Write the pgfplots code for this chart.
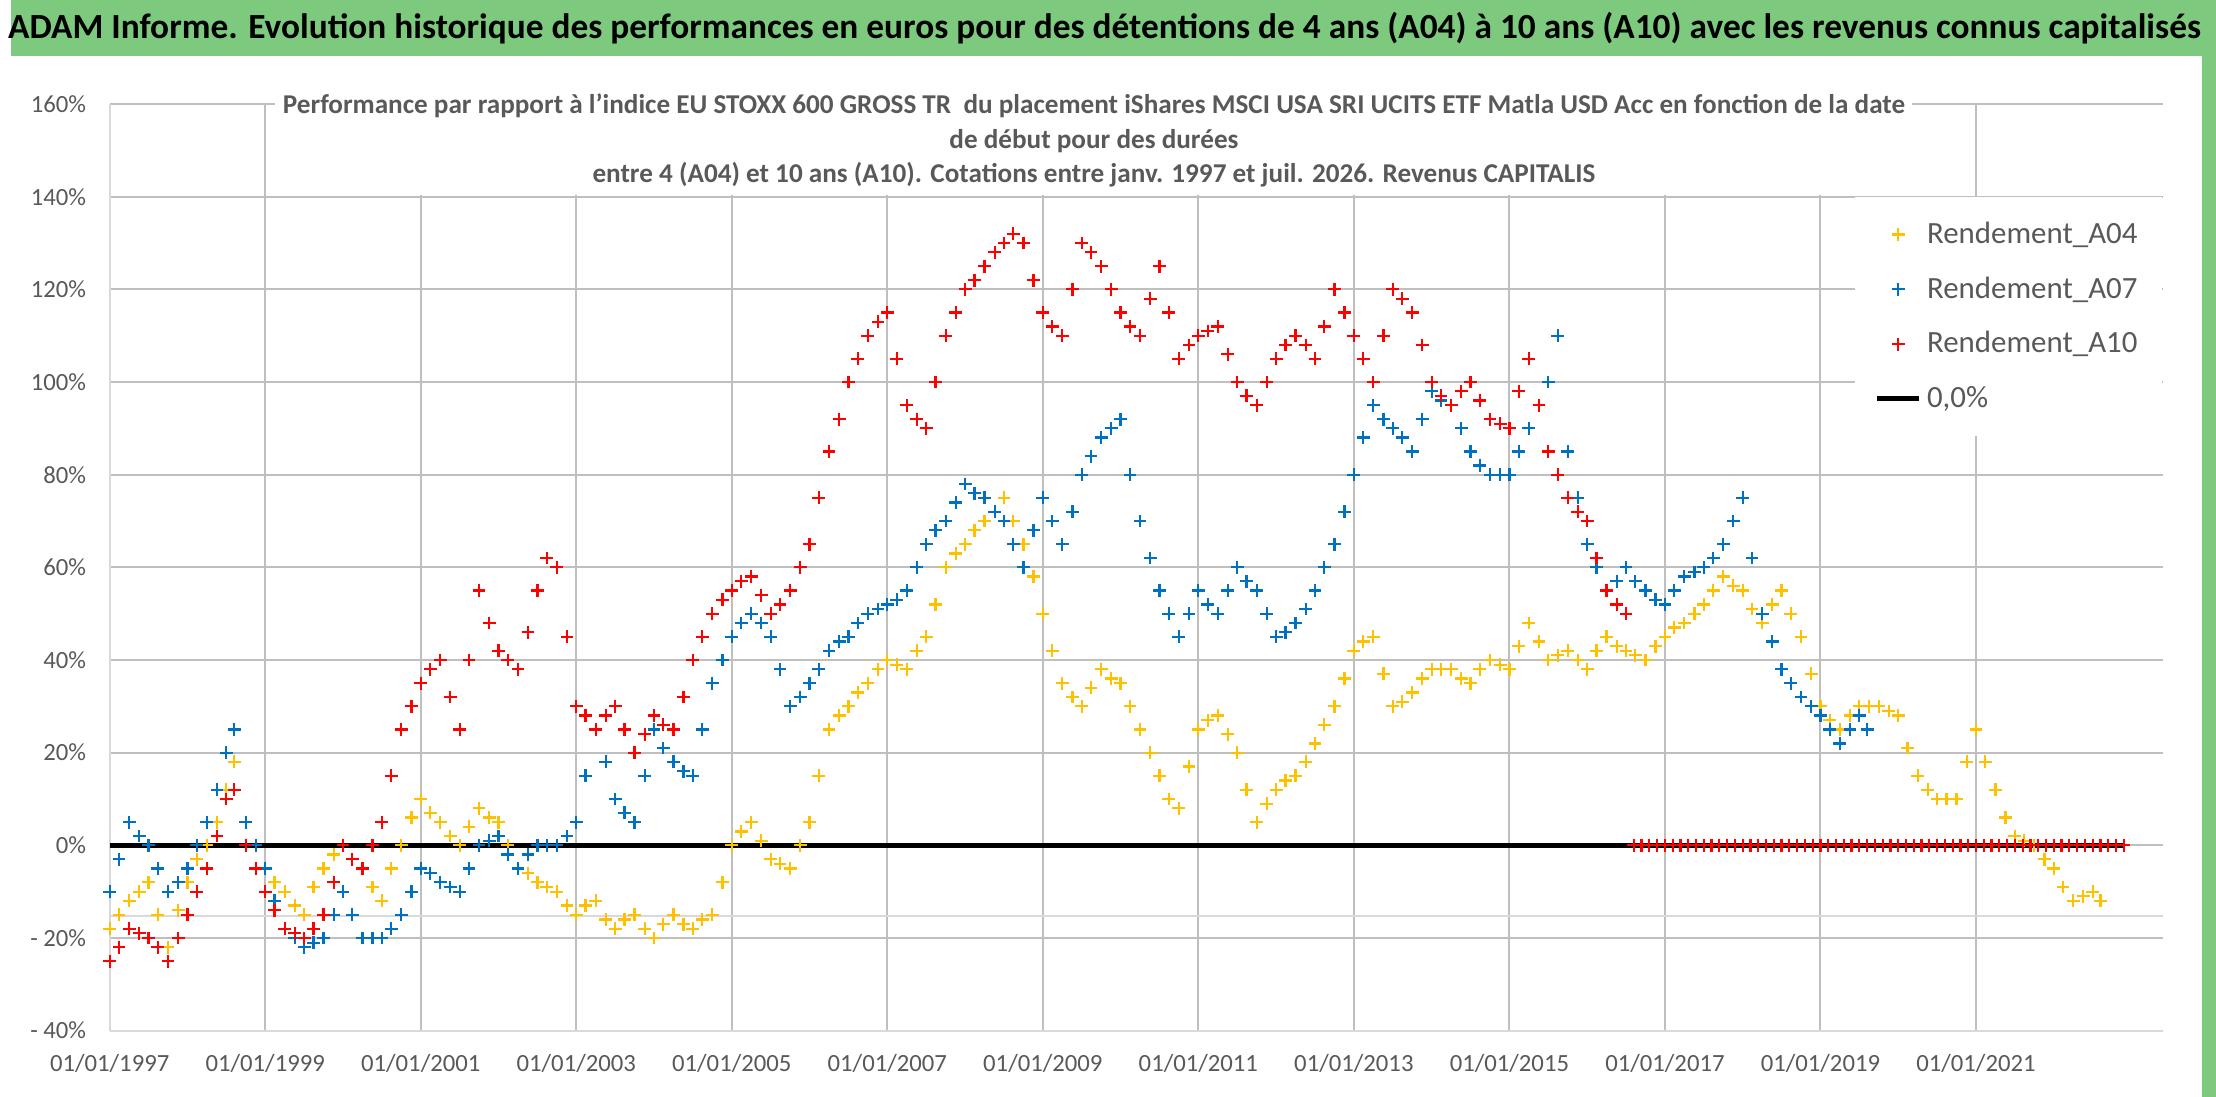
\documentclass[border=0pt]{standalone}
\usepackage{pgfplots}
\pgfplotsset{compat=1.18}
\usepackage{fontspec}
\setmainfont{Carlito}
\definecolor{cy}{HTML}{FFC000}
\definecolor{cb}{HTML}{0070C0}
\definecolor{cr}{HTML}{FF0000}
\definecolor{gbar}{HTML}{7DC97D}
\definecolor{tgray}{HTML}{595959}
\definecolor{grid}{HTML}{D9D9D9}
\begin{document}
\begin{tikzpicture}
\path[fill=white] (0,0) rectangle (31.36,15.6);
\fill[gbar] (0,14.8) rectangle (31.36,15.6);
\fill[gbar] (31.16,0) rectangle (31.36,15.6);
\node[anchor=center,font=\bfseries\fontsize{14.3}{17}\selectfont] at (15.55,15.2) {ADAM Informe. Evolution historique des performances en euros pour des détentions de 4 ans (A04) à 10 ans (A10) avec les revenus connus capitalisés};
\begin{axis}[at={(1.40cm,0.94cm)},anchor=south west,scale only axis,
 width=29.2cm,height=13.18cm,
 xmin=1997,xmax=2023.4,ymin=-40,ymax=160,
 xtick={1997,1999,2001,2003,2005,2007,2009,2011,2013,2015,2017,2019,2021},
 xticklabels={01/01/1997,01/01/1999,01/01/2001,01/01/2003,01/01/2005,01/01/2007,01/01/2009,01/01/2011,01/01/2013,01/01/2015,01/01/2017,01/01/2019,01/01/2021},
 ytick={-40,-20,0,20,40,60,80,100,120,140,160},
 yticklabels={- 40\%,- 20\%,0\%,20\%,40\%,60\%,80\%,100\%,120\%,140\%,160\%},
 xmajorgrids,ymajorgrids,grid style={grid,line width=0.8pt},
 major tick length=0pt,
 xticklabel style={yshift=-6pt},yticklabel style={xshift=-6pt},
 axis x line*=bottom,axis y line*=left,
 axis line style={grid,line width=0.8pt},
 tick label style={font=\fontsize{10}{12}\selectfont,text=tgray},
 legend style={at={(1,0.9)},anchor=north east,draw=none,fill=white,
   font=\fontsize{12.5}{15}\selectfont,text=tgray,row sep=8pt,inner xsep=8pt,inner ysep=8pt},
 legend cell align=left,
 every axis plot/.append style={only marks,mark=+,mark size=2.6pt,line width=0.9pt},
 clip=false]
\addplot[draw=grid,line width=0.8pt,no marks,sharp plot,forget plot] coordinates {(1997,-15.3)(2023.4,-15.3)};
\addplot[cy] coordinates {
(1997.0,-18)(1997.12,-15)(1997.25,-12)(1997.38,-10)(1997.5,-8)(1997.62,-15)(1997.75,-22)(1997.88,-14)(1998.0,-8)(1998.12,-3)(1998.25,0)(1998.38,5)(1998.5,12)(1998.6,18)(1998.75,5)(1998.88,0)(1999.0,-5)(1999.12,-8)(1999.25,-10)(1999.38,-13)(1999.5,-15)(1999.62,-9)(1999.75,-5)(1999.88,-2)(2000.0,0)(2000.12,-3)(2000.25,-5)(2000.38,-9)(2000.5,-12)(2000.62,-5)(2000.75,0)(2000.88,6)(2001.0,10)(2001.12,7)(2001.25,5)(2001.38,2)(2001.5,0)(2001.62,4)(2001.75,8)(2001.88,6)(2002.0,5)(2002.12,0)(2002.25,-5)(2002.38,-6)(2002.5,-8)(2002.62,-9)(2002.75,-10)(2002.88,-13)(2003.0,-15)(2003.12,-13)(2003.25,-12)(2003.38,-16)(2003.5,-18)(2003.62,-16)(2003.75,-15)(2003.88,-18)(2004.0,-20)(2004.12,-17)(2004.25,-15)(2004.38,-17)(2004.5,-18)(2004.62,-16)(2004.75,-15)(2004.88,-8)(2005.0,0)(2005.12,3)(2005.25,5)(2005.38,1)(2005.5,-3)(2005.62,-4)(2005.75,-5)(2005.88,0)(2006.0,5)(2006.12,15)(2006.25,25)(2006.38,28)(2006.5,30)(2006.62,33)(2006.75,35)(2006.88,38)(2007.0,40)(2007.12,39)(2007.25,38)(2007.38,42)(2007.5,45)(2007.62,52)(2007.75,60)(2007.88,63)(2008.0,65)(2008.12,68)(2008.25,70)(2008.38,72)(2008.5,75)(2008.62,70)(2008.75,65)(2008.88,58)(2009.0,50)(2009.12,42)(2009.25,35)(2009.38,32)(2009.5,30)(2009.62,34)(2009.75,38)(2009.88,36)(2010.0,35)(2010.12,30)(2010.25,25)(2010.38,20)(2010.5,15)(2010.62,10)(2010.75,8)(2010.88,17)(2011.0,25)(2011.12,27)(2011.25,28)(2011.38,24)(2011.5,20)(2011.62,12)(2011.75,5)(2011.88,9)(2012.0,12)(2012.12,14)(2012.25,15)(2012.38,18)(2012.5,22)(2012.62,26)(2012.75,30)(2012.88,36)(2013.0,42)(2013.12,44)(2013.25,45)(2013.38,37)(2013.5,30)(2013.62,31)(2013.75,33)(2013.88,36)(2014.0,38)(2014.12,38)(2014.25,38)(2014.38,36)(2014.5,35)(2014.62,38)(2014.75,40)(2014.88,39)(2015.0,38)(2015.12,43)(2015.25,48)(2015.38,44)(2015.5,40)(2015.62,41)(2015.75,42)(2015.88,40)(2016.0,38)(2016.12,42)(2016.25,45)(2016.38,43)(2016.5,42)(2016.62,41)(2016.75,40)(2016.88,43)(2017.0,45)(2017.12,47)(2017.25,48)(2017.38,50)(2017.5,52)(2017.62,55)(2017.75,58)(2017.88,56)(2018.0,55)(2018.12,51)(2018.25,48)(2018.38,52)(2018.5,55)(2018.62,50)(2018.75,45)(2018.88,37)(2019.0,30)(2019.12,27)(2019.25,25)(2019.38,28)(2019.5,30)(2019.62,30)(2019.75,30)(2019.88,29)(2020.0,28)(2020.12,21)(2020.25,15)(2020.38,12)(2020.5,10)(2020.62,10)(2020.75,10)(2020.88,18)(2021.0,25)(2021.12,18)(2021.25,12)(2021.38,6)(2021.5,2)(2021.62,1)(2021.75,0)(2021.88,-3)(2022.0,-5)(2022.12,-9)(2022.25,-12)(2022.38,-11)(2022.5,-10)(2022.6,-12)};
\addlegendentry{Rendement\_A04}
\addplot[cb] coordinates {
(1997.0,-10)(1997.12,-3)(1997.25,5)(1997.38,2)(1997.5,0)(1997.62,-5)(1997.75,-10)(1997.88,-8)(1998.0,-5)(1998.12,0)(1998.25,5)(1998.38,12)(1998.5,20)(1998.6,25)(1998.75,5)(1998.88,0)(1999.0,-5)(1999.12,-12)(1999.25,-18)(1999.38,-20)(1999.5,-22)(1999.62,-21)(1999.75,-20)(1999.88,-15)(2000.0,-10)(2000.12,-15)(2000.25,-20)(2000.38,-20)(2000.5,-20)(2000.62,-18)(2000.75,-15)(2000.88,-10)(2001.0,-5)(2001.12,-6)(2001.25,-8)(2001.38,-9)(2001.5,-10)(2001.62,-5)(2001.75,0)(2001.88,1)(2002.0,2)(2002.12,-2)(2002.25,-5)(2002.38,-2)(2002.5,0)(2002.62,0)(2002.75,0)(2002.88,2)(2003.0,5)(2003.12,15)(2003.25,25)(2003.38,18)(2003.5,10)(2003.62,7)(2003.75,5)(2003.88,15)(2004.0,25)(2004.12,21)(2004.25,18)(2004.38,16)(2004.5,15)(2004.62,25)(2004.75,35)(2004.88,40)(2005.0,45)(2005.12,48)(2005.25,50)(2005.38,48)(2005.5,45)(2005.62,38)(2005.75,30)(2005.88,32)(2006.0,35)(2006.12,38)(2006.25,42)(2006.38,44)(2006.5,45)(2006.62,48)(2006.75,50)(2006.88,51)(2007.0,52)(2007.12,53)(2007.25,55)(2007.38,60)(2007.5,65)(2007.62,68)(2007.75,70)(2007.88,74)(2008.0,78)(2008.12,76)(2008.25,75)(2008.38,72)(2008.5,70)(2008.62,65)(2008.75,60)(2008.88,68)(2009.0,75)(2009.12,70)(2009.25,65)(2009.38,72)(2009.5,80)(2009.62,84)(2009.75,88)(2009.88,90)(2010.0,92)(2010.12,80)(2010.25,70)(2010.38,62)(2010.5,55)(2010.62,50)(2010.75,45)(2010.88,50)(2011.0,55)(2011.12,52)(2011.25,50)(2011.38,55)(2011.5,60)(2011.62,57)(2011.75,55)(2011.88,50)(2012.0,45)(2012.12,46)(2012.25,48)(2012.38,51)(2012.5,55)(2012.62,60)(2012.75,65)(2012.88,72)(2013.0,80)(2013.12,88)(2013.25,95)(2013.38,92)(2013.5,90)(2013.62,88)(2013.75,85)(2013.88,92)(2014.0,98)(2014.12,96)(2014.25,95)(2014.38,90)(2014.5,85)(2014.62,82)(2014.75,80)(2014.88,80)(2015.0,80)(2015.12,85)(2015.25,90)(2015.38,95)(2015.5,100)(2015.62,110)(2015.75,85)(2015.88,75)(2016.0,65)(2016.12,60)(2016.25,55)(2016.38,57)(2016.5,60)(2016.62,57)(2016.75,55)(2016.88,53)(2017.0,52)(2017.12,55)(2017.25,58)(2017.38,59)(2017.5,60)(2017.62,62)(2017.75,65)(2017.88,70)(2018.0,75)(2018.12,62)(2018.25,50)(2018.38,44)(2018.5,38)(2018.62,35)(2018.75,32)(2018.88,30)(2019.0,28)(2019.12,25)(2019.25,22)(2019.38,25)(2019.5,28)(2019.6,25)};
\addlegendentry{Rendement\_A07}
\addplot[black,line width=2.2pt,no marks,sharp plot,forget plot] coordinates {(1997,0)(2022.9,0)};
\addplot[cr] coordinates {
(1997.0,-25)(1997.12,-22)(1997.25,-18)(1997.38,-19)(1997.5,-20)(1997.62,-22)(1997.75,-25)(1997.88,-20)(1998.0,-15)(1998.12,-10)(1998.25,-5)(1998.38,2)(1998.5,10)(1998.6,12)(1998.75,0)(1998.88,-5)(1999.0,-10)(1999.12,-14)(1999.25,-18)(1999.38,-19)(1999.5,-20)(1999.62,-18)(1999.75,-15)(1999.88,-8)(2000.0,0)(2000.12,-3)(2000.25,-5)(2000.38,0)(2000.5,5)(2000.62,15)(2000.75,25)(2000.88,30)(2001.0,35)(2001.12,38)(2001.25,40)(2001.38,32)(2001.5,25)(2001.62,40)(2001.75,55)(2001.88,48)(2002.0,42)(2002.12,40)(2002.25,38)(2002.38,46)(2002.5,55)(2002.62,62)(2002.75,60)(2002.88,45)(2003.0,30)(2003.12,28)(2003.25,25)(2003.38,28)(2003.5,30)(2003.62,25)(2003.75,20)(2003.88,24)(2004.0,28)(2004.12,26)(2004.25,25)(2004.38,32)(2004.5,40)(2004.62,45)(2004.75,50)(2004.88,53)(2005.0,55)(2005.12,57)(2005.25,58)(2005.38,54)(2005.5,50)(2005.62,52)(2005.75,55)(2005.88,60)(2006.0,65)(2006.12,75)(2006.25,85)(2006.38,92)(2006.5,100)(2006.62,105)(2006.75,110)(2006.88,113)(2007.0,115)(2007.12,105)(2007.25,95)(2007.38,92)(2007.5,90)(2007.62,100)(2007.75,110)(2007.88,115)(2008.0,120)(2008.12,122)(2008.25,125)(2008.38,128)(2008.5,130)(2008.62,132)(2008.75,130)(2008.88,122)(2009.0,115)(2009.12,112)(2009.25,110)(2009.38,120)(2009.5,130)(2009.62,128)(2009.75,125)(2009.88,120)(2010.0,115)(2010.12,112)(2010.25,110)(2010.38,118)(2010.5,125)(2010.62,115)(2010.75,105)(2010.88,108)(2011.0,110)(2011.12,111)(2011.25,112)(2011.38,106)(2011.5,100)(2011.62,97)(2011.75,95)(2011.88,100)(2012.0,105)(2012.12,108)(2012.25,110)(2012.38,108)(2012.5,105)(2012.62,112)(2012.75,120)(2012.88,115)(2013.0,110)(2013.12,105)(2013.25,100)(2013.38,110)(2013.5,120)(2013.62,118)(2013.75,115)(2013.88,108)(2014.0,100)(2014.12,97)(2014.25,95)(2014.38,98)(2014.5,100)(2014.62,96)(2014.75,92)(2014.88,91)(2015.0,90)(2015.12,98)(2015.25,105)(2015.38,95)(2015.5,85)(2015.62,80)(2015.75,75)(2015.88,72)(2016.0,70)(2016.12,62)(2016.25,55)(2016.38,52)(2016.5,50)
(2016.6,0)(2016.7,0)(2016.8,0)(2016.9,0)(2017.0,0)(2017.1,0)(2017.2,0)(2017.3,0)(2017.4,0)(2017.5,0)(2017.6,0)(2017.7,0)(2017.8,0)(2017.9,0)(2018.0,0)(2018.1,0)(2018.2,0)(2018.3,0)(2018.4,0)(2018.5,0)(2018.6,0)(2018.7,0)(2018.8,0)(2018.9,0)(2019.0,0)(2019.1,0)(2019.2,0)(2019.3,0)(2019.4,0)(2019.5,0)(2019.6,0)(2019.7,0)(2019.8,0)(2019.9,0)(2020.0,0)(2020.1,0)(2020.2,0)(2020.3,0)(2020.4,0)(2020.5,0)(2020.6,0)(2020.7,0)(2020.8,0)(2020.9,0)(2021.0,0)(2021.1,0)(2021.2,0)(2021.3,0)(2021.4,0)(2021.5,0)(2021.6,0)(2021.7,0)(2021.8,0)(2021.9,0)(2022.0,0)(2022.1,0)(2022.2,0)(2022.3,0)(2022.4,0)(2022.5,0)(2022.6,0)(2022.7,0)(2022.8,0)(2022.9,0)};
\addlegendentry{Rendement\_A10}
\addlegendimage{black,line width=2.2pt,no marks,sharp plot}
\addlegendentry{0,0\%}
\end{axis}
\node[fill=white,align=center,text=tgray,font=\bfseries\fontsize{11}{14}\selectfont,inner sep=3pt] at (15.4,13.6) {Performance par rapport à l'indice EU STOXX 600 GROSS TR\ \ du placement iShares MSCI USA SRI UCITS ETF Matla USD Acc en fonction de la date\\de début pour des durées\\entre 4 (A04) et 10 ans (A10). Cotations entre janv. 1997 et juil. 2026. Revenus CAPITALIS};
\end{tikzpicture}
\end{document}
